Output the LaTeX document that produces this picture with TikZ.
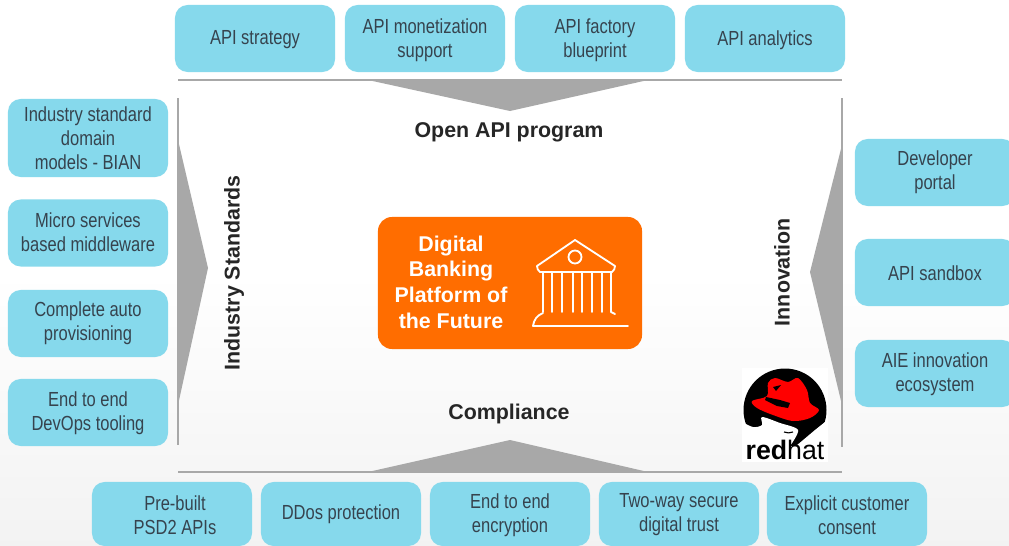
\documentclass[tikz,border=0pt]{standalone}
\usepackage{fontspec}
\setmainfont{Liberation Sans}
\newfontfamily\narrowfont[FakeStretch=0.81]{Liberation Sans}
\definecolor{boxblue}{HTML}{86D9EC}
\definecolor{bargray}{HTML}{A8A8A8}
\definecolor{bankorange}{HTML}{FF6D00}
\definecolor{boxtext}{HTML}{36434E}
\tikzset{
  offering/.style={fill=boxblue,rounded corners=9pt,minimum width=4cm,align=center,text=boxtext,font=\narrowfont\fontsize{14.5}{17}\selectfont,inner sep=0pt},
  caption/.style={text=boxtext,align=center,font=\narrowfont\fontsize{14.5}{17}\selectfont,inner sep=0pt},
  pillar/.style={font=\bfseries\fontsize{15.2}{16}\selectfont,text=black!85},
  bar/.style={bargray,line width=2pt},
  wedge/.style={fill=bargray,draw=none}
}
\begin{document}
\begin{tikzpicture}[x=0.025cm,y=-0.025cm]
\useasboundingbox (0,0) rectangle (1009,546);
\clip (0,0) rectangle (1009,546);
\shade[top color=white,bottom color=black!5,middle color=white] (0,0) rectangle (1009,546);

% top row
\node[offering,minimum height=1.675cm,text depth=0pt] (strategy) at (255,38.5) {};
\node[caption] (strategytext) at (255,40) {API strategy};
\node[offering,minimum height=1.675cm] (monetization) at (425,38.5) {};
\node[caption] (monetizationtext) at (425,40) {API monetization\\support};
\node[offering,minimum height=1.675cm] (factory) at (595,38.5) {};
\node[caption] (factorytext) at (595,40) {API factory\\blueprint};
\node[offering,minimum height=1.675cm] (analytics) at (765,38.5) {};
\node[caption] (analyticstext) at (765,40) {API analytics};

% left column
\node[offering,minimum height=1.95cm] (bian) at (88,138) {};
\node[caption] (biantext) at (88,138) {Industry standard\\domain\\models - BIAN};
\node[offering,minimum height=1.675cm] (micro) at (88,233) {};
\node[caption] (microtext) at (88,232.5) {Micro services\\based middleware};
\node[offering,minimum height=1.675cm] (provision) at (88,323.5) {};
\node[caption] (provisiontext) at (88,323) {Complete auto\\provisioning};
\node[offering,minimum height=1.675cm] (devops) at (88,412.5) {};
\node[caption] (devopstext) at (88,413) {End to end\\DevOps tooling};

% right column
\node[offering,minimum height=1.675cm] (portal) at (935,172.5) {};
\node[caption] (portaltext) at (935,172) {Developer\\portal};
\node[offering,minimum height=1.675cm] (sandbox) at (935,272.5) {};
\node[caption] (sandboxtext) at (935,273) {API sandbox};
\node[offering,minimum height=1.675cm] (ecosystem) at (935,373.5) {};
\node[caption] (ecosystemtext) at (935,374) {AIE innovation\\ecosystem};

% bottom row
\node[offering,minimum height=1.6cm] (psd) at (172,514) {};
\node[caption] (psdtext) at (175,515) {Pre-built\\PSD2 APIs};
\node[offering,minimum height=1.6cm] (ddos) at (341,514) {};
\node[caption] (ddostext) at (341,514) {DDos protection};
\node[offering,minimum height=1.6cm] (encryption) at (510,514) {};
\node[caption] (encryptiontext) at (510,515) {End to end\\encryption};
\node[offering,minimum height=1.6cm] (trust) at (679,514) {};
\node[caption] (trusttext) at (679,515) {Two-way secure\\digital trust};
\node[offering,minimum height=1.6cm] (consent) at (847,514) {};
\node[caption] (consenttext) at (847,515) {Explicit customer\\consent};

% frame
\draw[bar] (178,80)--(842,80);
\draw[bar] (178,472)--(842,472);
\draw[bar] (178,98)--(178,445);
\draw[bar] (842,98)--(842,447);
\fill[wedge] (368,80)--(648,80)--(510,111)--cycle;
\fill[wedge] (368,472)--(648,472)--(510,440)--cycle;
\fill[wedge] (178,140)--(208,268)--(178,405)--cycle;
\fill[wedge] (842,145)--(810,272)--(842,405)--cycle;

\node[pillar] (program) at (509,132) {Open API program};
\node[pillar] (compliance) at (509,414) {Compliance};
\node[pillar,rotate=90] (standards) at (234,273) {Industry Standards};
\node[pillar,rotate=90] (innovation) at (782,272) {Innovation};

% centre
\node[fill=bankorange,rounded corners=10pt,minimum width=6.6cm,minimum height=3.3cm] (platform) at (510,283) {};
\node[align=center,text=white,font=\bfseries\fontsize{15.2}{18.2}\selectfont] (platformtext) at (451,282) {Digital\\Banking\\Platform of\\the Future};

% bank
\begin{scope}[white,line width=1.3pt,line cap=round,line join=round]
\draw (540,272) to[bend left=25] (537,266)--(575,240)--(615,266) to[bend left=25] (612,272)--cycle;
\draw (575,257) circle (6.5);
\draw (543,272)--(543,312);
\draw (552,272)--(552,312);
\draw (562,272)--(562,312);
\draw (573,272)--(573,312);
\draw (582,272)--(582,312);
\draw (592,272)--(592,312);
\draw (602,272)--(602,312);
\draw (611,272)--(611,312)--(615,314);
\draw (628,326)--(533,326) to[bend left=30] (543,313);
\end{scope}

% logo
\fill[white] (742,368) rectangle (828,462);
\begin{scope}
\clip (742,368) rectangle (828,445);
\fill[black] (785,410) circle (41.5);
\fill[white] plot[smooth] coordinates {(740,421) (753,427) (762,425) (762,417) (780,423) (798,430) (790,446)} -- (740,446) -- cycle;
\fill[white] (796,446)--(815,430)--(830,418)--(830,446)--cycle;
\end{scope}
\fill[red] plot[smooth cycle,tension=0.55] coordinates {(752,401) (767,396) (768,383) (775,378) (788,382) (798,378) (807,390) (810,403) (819,410) (810,418) (793,421) (773,415) (757,408)};
\fill[black] (766,397)--(780,400)--(790,403)--(788,408)--(777,406)--(765,400)--cycle;
\fill[black] (773,387)--(781,385)--(776,391)--cycle;
\draw[black,line width=0.8pt] (784,432) to[bend right=20] (793,432);
\node[inner sep=0pt,font=\fontsize{19}{20}\selectfont] (redhat) at (785,450) {\textbf{red}hat};
\end{tikzpicture}
\end{document}
